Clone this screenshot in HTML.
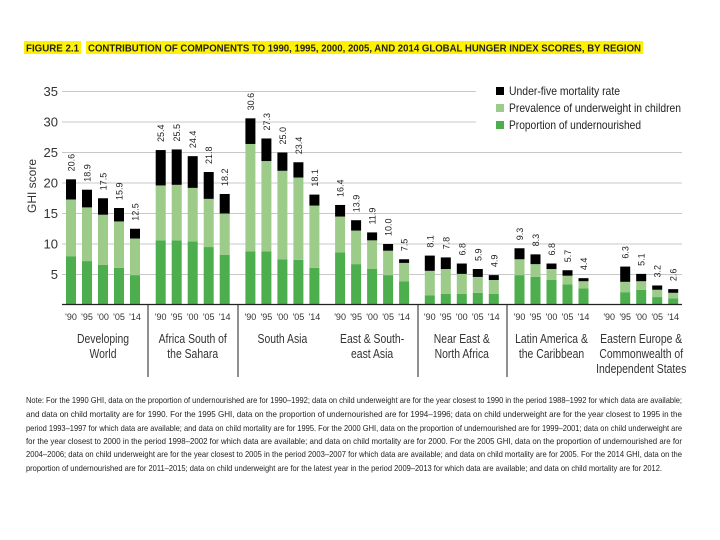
<!DOCTYPE html>
<html><head><meta charset="utf-8"><style>
html,body{margin:0;padding:0;background:#fff;}
svg{display:block;font-family:"Liberation Sans",sans-serif;}
</style></head><body>
<svg id="chart" width="720" height="540" viewBox="0 0 720 540">
<g>
<rect x="24" y="41" width="57" height="13" fill="#fff200"/>
<text x="26" y="51.5" font-size="10" font-weight="bold" fill="#222" textLength="53" lengthAdjust="spacingAndGlyphs">FIGURE 2.1</text>
<rect x="86" y="41" width="557" height="13" fill="#fff200"/>
<text x="88" y="51.5" font-size="10" font-weight="bold" fill="#222" textLength="553" lengthAdjust="spacingAndGlyphs">CONTRIBUTION OF COMPONENTS TO 1990, 1995, 2000, 2005, AND 2014 GLOBAL HUNGER INDEX SCORES, BY REGION</text>
</g>
<g id="grid"></g><g id="bars"></g><g id="axes"></g>
<g font-size="12" fill="#222">
<rect x="496" y="87" width="8" height="8" fill="#000"/>
<text x="509" y="95" textLength="111" lengthAdjust="spacingAndGlyphs">Under-five mortality rate</text>
<rect x="496" y="104" width="8" height="8" fill="#9ccb8a"/>
<text x="509" y="112" textLength="172" lengthAdjust="spacingAndGlyphs">Prevalence of underweight in children</text>
<rect x="496" y="121" width="8" height="8" fill="#4cae4c"/>
<text x="509" y="129" textLength="132" lengthAdjust="spacingAndGlyphs">Proportion of undernourished</text>
</g>
<g font-size="8.5" fill="#222">
<text x="26" y="403" textLength="656" lengthAdjust="spacingAndGlyphs">Note: For the 1990 GHI, data on the proportion of undernourished are for 1990–1992; data on child underweight are for the year closest to 1990 in the period 1988–1992 for which data are available;</text>
<text x="26" y="417" textLength="656" lengthAdjust="spacingAndGlyphs">and data on child mortality are for 1990. For the 1995 GHI, data on the proportion of undernourished are for 1994–1996; data on child underweight are for the year closest to 1995 in the</text>
<text x="26" y="431" textLength="656" lengthAdjust="spacingAndGlyphs">period 1993–1997 for which data are available; and data on child mortality are for 1995. For the 2000 GHI, data on the proportion of undernourished are for 1999–2001; data on child underweight are</text>
<text x="26" y="444" textLength="656" lengthAdjust="spacingAndGlyphs">for the year closest to 2000 in the period 1998–2002 for which data are available; and data on child mortality are for 2000. For the 2005 GHI, data on the proportion of undernourished are for</text>
<text x="26" y="457" textLength="656" lengthAdjust="spacingAndGlyphs">2004–2006; data on child underweight are for the year closest to 2005 in the period 2003–2007 for which data are available; and data on child mortality are for 2005. For the 2014 GHI, data on the</text>
<text x="26" y="471" textLength="636" lengthAdjust="spacingAndGlyphs">proportion of undernourished are for 2011–2015; data on child underweight are for the latest year in the period 2009–2013 for which data are available; and data on child mortality are for 2012.</text>
</g>
</svg>
<script>
const regions = ["Developing World","Africa South of the Sahara","South Asia","East & South-east Asia","Near East & North Africa","Latin America & the Caribbean","Eastern Europe & Commonwealth of Independent States"];
const years = ["'90","'95","'00","'05","'14"];
const undernourished = [[8.0,7.2,6.6,6.1,4.9],[10.6,10.6,10.4,9.5,8.2],[8.8,8.8,7.5,7.4,6.1],[8.6,6.7,5.9,4.9,3.9],[1.6,1.8,1.8,2.0,1.8],[4.9,4.6,4.1,3.4,2.7],[null,2.1,2.5,1.3,1.1]];
const underweight = [[9.3,8.8,8.2,7.6,6.0],[9.0,9.1,8.8,7.9,6.8],[17.6,14.8,14.5,13.5,10.2],[5.9,5.5,4.7,4.0,3.0],[4.0,4.1,3.3,2.6,2.3],[2.6,2.1,1.8,1.4,1.2],[null,1.7,1.4,1.2,0.9]];
const totals = [[20.6,18.9,17.5,15.9,12.5],[25.4,25.5,24.4,21.8,18.2],[30.6,27.3,25.0,23.4,18.1],[16.4,13.9,11.9,10.0,7.5],[8.1,7.8,6.8,5.9,4.9],[9.3,8.3,6.8,5.7,4.4],[null,6.3,5.1,3.2,2.6]];
const totalLabels = [["20.6","18.9","17.5","15.9","12.5"],["25.4","25.5","24.4","21.8","18.2"],["30.6","27.3","25.0","23.4","18.1"],["16.4","13.9","11.9","10.0","7.5"],["8.1","7.8","6.8","5.9","4.9"],["9.3","8.3","6.8","5.7","4.4"],["","6.3","5.1","3.2","2.6"]];
const yTicks = [5,10,15,20,25,30,35];
const regionLines = [["Developing","World"],["Africa South of","the Sahara"],["South Asia"],["East & South-","east Asia"],["Near East &","North Africa"],["Latin America &","the Caribbean"],["Eastern Europe &","Commonwealth of","Independent States"]];

const NS="http://www.w3.org/2000/svg";
function mk(tag,attrs,parent){const e=document.createElementNS(NS,tag);for(const k in attrs)e.setAttribute(k,attrs[k]);parent.appendChild(e);return e;}
const y0=305, ppu=6.1;
function yS(v){return y0-v*ppu;}
function gx(g){return 66+g*89.7;}
function bx(g,i){return gx(g)+i*16;}
const BW=10;
const grid=document.getElementById('grid'),bars=document.getElementById('bars'),axes=document.getElementById('axes');

yTicks.forEach(t=>{
  const l=mk('line',{x1:62,x2:t>=30?476:682,y1:yS(t),y2:yS(t),stroke:'#c8c8c8','stroke-width':1},grid);
  
  
  const tx=mk('text',{x:58,y:yS(t)+4.5,'font-size':13,'text-anchor':'end',fill:'#333'},axes);
  tx.textContent=t;
  
  
});
const yt=mk('text',{x:0,y:0,'font-size':12,'text-anchor':'middle',fill:'#333',transform:'translate(36,186) rotate(-90)'},axes);
yt.textContent='GHI score';



const ax=mk('line',{x1:62,x2:682,y1:304.5,y2:304.5,stroke:'#222','stroke-width':1.2},axes);



[148,238,418,507].forEach((x,k)=>{
  const s=mk('line',{x1:x,x2:x,y1:305,y2:377,stroke:'#222','stroke-width':1},axes);
  
  
});

regions.forEach((r,g)=>{
  years.forEach((yr,i)=>{
    const x=bx(g,i);
    const tl=mk('text',{x:x+BW/2,y:320,'font-size':9,'text-anchor':'middle',fill:'#333'},axes);
    tl.textContent=yr;
    
    
    const u=undernourished[g][i]; if(u==null) return;
    const w=underweight[g][i], t=totals[g][i];
    const b1=mk('rect',{x:x,y:yS(u),width:BW,height:y0-yS(u),fill:'#4cae4c'},bars);
    
    
    const b2=mk('rect',{x:x,y:yS(u+w),width:BW,height:yS(u)-yS(u+w),fill:'#9ccb8a'},bars);
    
    
    const b3=mk('rect',{x:x,y:yS(t),width:BW,height:yS(u+w)-yS(t),fill:'#000'},bars);
    
    
    const vl=mk('text',{x:0,y:0,'font-size':9,fill:'#222',transform:`translate(${x+BW/2+3.5},${yS(t)-8}) rotate(-90)`},bars);
    vl.textContent=totalLabels[g][i];
    
    
  });
  const cx=gx(g)+37;
  regionLines[g].forEach((ln,k)=>{
    const rt=mk('text',{x:0,y:0,'font-size':13,'text-anchor':'middle',fill:'#333',transform:`translate(${cx},${343+k*15}) scale(0.8,1)`},axes);
    rt.textContent=ln;
    
    
  });
});
</script>
</body></html>
